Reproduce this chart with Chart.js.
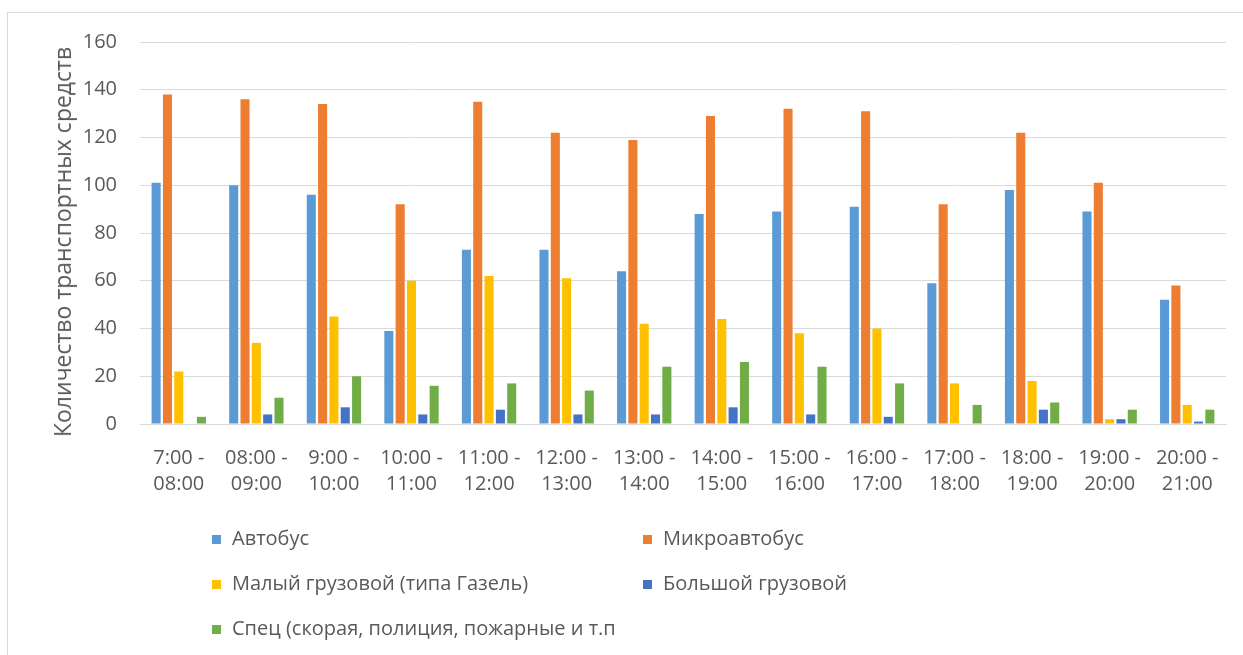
<!DOCTYPE html>
<html>
<head>
<meta charset="utf-8">
<script src="https://cdn.jsdelivr.net/npm/chart.js@4.4.0/dist/chart.umd.min.js"></script>
<style>
  html, body { margin: 0; padding: 0; background: #fff; }
  #wrap { position: relative; width: 1243px; height: 655px; overflow: hidden; }
  #frame { position: absolute; left: 7px; top: 12px; width: 1300px; height: 700px; border: 1px solid #d9d9d9; box-sizing: border-box; }
  #myChart { position: absolute; left: 0; top: 0; }
  .leg { position: absolute; font-family: "Open Sans", sans-serif; font-size: 20px; color: #595959; white-space: nowrap; line-height: 24px; }
  .leg i { display: inline-block; width: 9px; height: 9px; margin-right: 11px; vertical-align: 1px; }
  #ytitle { position: absolute; left: 62px; top: 242px; transform: translate(-50%, -50%) rotate(-90deg);
            font-family: "Open Sans", sans-serif; font-size: 23px; color: #595959; white-space: nowrap; line-height: 28px; }
</style>
</head>
<body>
<div id="wrap">
  <div id="frame"></div>
  <canvas id="myChart" width="1243" height="655"></canvas>
  <div id="ytitle"></div>
  <div id="legend"></div>
</div>
<script>
// часы (подписи категорий)
const hours = [
  ['7:00 -', '08:00'], ['08:00 -', '09:00'], ['9:00 -', '10:00'], ['10:00 -', '11:00'],
  ['11:00 -', '12:00'], ['12:00 -', '13:00'], ['13:00 -', '14:00'], ['14:00 -', '15:00'],
  ['15:00 -', '16:00'], ['16:00 -', '17:00'], ['17:00 -', '18:00'], ['18:00 -', '19:00'],
  ['19:00 -', '20:00'], ['20:00 -', '21:00'],
];

const seriesNames = [
  'Автобус',
  'Микроавтобус',
  'Малый грузовой (типа Газель)',
  'Большой грузовой',
  'Спец (скорая, полиция, пожарные и т.п',
];

const yTitle = 'Количество транспортных средств';

const bus = [101, 100, 96, 39, 73, 73, 64, 88, 89, 91, 59, 98, 89, 52];
const minibus = [138, 136, 134, 92, 135, 122, 119, 129, 132, 131, 92, 122, 101, 58];
const smallTruck = [22, 34, 45, 60, 62, 61, 42, 44, 38, 40, 17, 18, 2, 8];
const bigTruck = [0, 4, 7, 4, 6, 4, 4, 7, 4, 3, 0, 6, 2, 1];
const special = [3, 11, 20, 16, 17, 14, 24, 26, 24, 17, 8, 9, 6, 6];

const yTicks = [0, 20, 40, 60, 80, 100, 120, 140, 160];

const colors = ['#5B9BD5', '#ED7D31', '#FFC000', '#4472C4', '#70AD47'];
const allData = [bus, minibus, smallTruck, bigTruck, special];

const font = { family: '"Open Sans", sans-serif', size: 20 };

const chartArea = document.getElementById('myChart').getContext('2d');
const myChart = new Chart(chartArea, {
  type: 'bar',
  data: {
    labels: hours,
    datasets: allData.map((d, i) => ({
      label: seriesNames[i],
      data: d,
      backgroundColor: colors[i],
      borderWidth: 0,
      categoryPercentage: 0.73,
      barPercentage: 0.8,
    })),
  },
  options: {
    responsive: false,
    animation: false,
    layout: { padding: { top: 42, right: 17, left: 0, bottom: 0 } },
    plugins: {
      legend: { display: false },
      tooltip: { enabled: false },
    },
    scales: {
      x: {
        grid: { display: false, drawTicks: false },
        border: { display: true, color: '#d9d9d9', width: 1 },
        ticks: { color: '#595959', font: { ...font, lineHeight: 1.3 }, padding: 21, maxRotation: 0, autoSkip: false },
        afterFit: (scale) => { scale.height = 655 - 424; },
      },
      y: {
        min: 0,
        max: 160,
        afterBuildTicks: (scale) => { scale.ticks = yTicks.map((v) => ({ value: v })); },
        grid: { color: '#d9d9d9', lineWidth: 1, drawTicks: false },
        border: { display: false },
        ticks: { color: '#595959', font: font, padding: 23 },
        afterFit: (scale) => { scale.width = 140; },
      },
    },
  },
});

// подпись оси Y
document.getElementById('ytitle').textContent = yTitle;

// легенда в две колонки, как в Excel
const legendPos = [
  [212, 526], [643, 526],
  [212, 571], [643, 571],
  [212, 616],
];
const legend = document.getElementById('legend');
seriesNames.forEach((name, i) => {
  const el = document.createElement('div');
  el.className = 'leg';
  el.style.left = legendPos[i][0] + 'px';
  el.style.top = legendPos[i][1] + 'px';
  el.innerHTML = '<i style="background:' + colors[i] + '"></i>' + name;
  legend.appendChild(el);
});
</script>
</body>
</html>
